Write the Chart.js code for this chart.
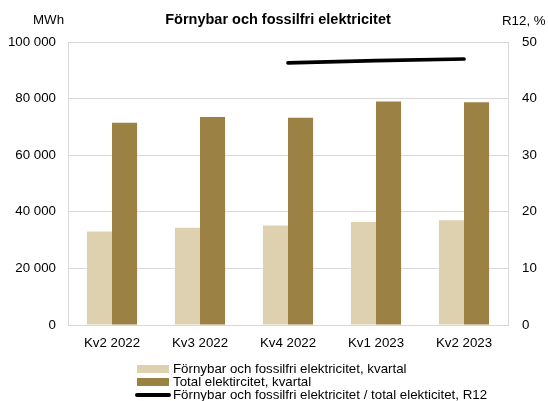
<!DOCTYPE html>
<html><head><meta charset="utf-8">
<script src="https://cdn.jsdelivr.net/npm/chart.js@4"></script>
<style>
html,body{margin:0;padding:0;background:#fff;}
#wrap{position:relative;width:548px;height:401px;font-family:"Liberation Sans",Arial,sans-serif;color:#000;}
canvas{position:absolute;left:0;top:0;}
.t{position:absolute;white-space:nowrap;font-size:13.3px;line-height:15px;}
.lg{position:absolute;left:0;height:13px;font-size:13.3px;line-height:13px;white-space:nowrap;}
.sw{position:absolute;left:137px;top:3px;width:32px;height:8px;}
.ln{position:absolute;left:135px;top:5px;width:36px;height:3.5px;background:#000;border-radius:2px;}
.lt{position:absolute;left:173px;top:0;}
</style></head>
<body><div id="wrap">
<canvas id="c" width="548" height="401"></canvas>
<div class="t" style="left:0;width:556px;top:12px;text-align:center;font-weight:bold;font-size:14.5px;">Förnybar och fossilfri elektricitet</div>
<div class="t" style="left:33px;top:12px;">MWh</div>
<div class="t" style="left:502px;top:13px;">R12, %</div>
<div id="legend"></div>
</div>
<script>
const categories = ["Kv2 2022","Kv3 2022","Kv4 2022","Kv1 2023","Kv2 2023"];
const renewableQuarter = [33000, 34400, 35200, 36400, 37000];
const totalQuarter = [71500, 73500, 73200, 79000, 78700];
const ratioR12 = [null, null, 46.3, 46.7, 47.0];
const seriesNames = ["Förnybar och fossilfri elektricitet, kvartal","Total elektircitet, kvartal","Förnybar och fossilfri elektricitet / total elekticitet, R12"];
const leftTicks = [0,20000,40000,60000,80000,100000];
const rightTicks = [0,10,20,30,40,50];

const cLight = "#DDD1B0", cDark = "#9B8144", gridC = "#d9d9d9";
const font = {family:'"Liberation Sans", Arial, sans-serif', size:13.3};

new Chart(document.getElementById('c'), {
  data: {
    labels: categories,
    datasets: [
      {type:'line', label:seriesNames[2], data:ratioR12, yAxisID:'y1', borderColor:'#000', borderWidth:3.7, pointRadius:0, borderCapStyle:'round', spanGaps:false, order:0},
      {type:'bar', label:seriesNames[0], data:renewableQuarter, backgroundColor:cLight, yAxisID:'y', categoryPercentage:0.57, barPercentage:1, order:1},
      {type:'bar', label:seriesNames[1], data:totalQuarter, backgroundColor:cDark, yAxisID:'y', categoryPercentage:0.57, barPercentage:1, order:1}
    ]
  },
  options: {
    responsive:false, animation:false, devicePixelRatio:1,
    layout:{padding:{top:42,bottom:0,left:0,right:0}},
    plugins:{legend:{display:false}, title:{display:false}, tooltip:{enabled:false}},
    scales:{
      x:{grid:{display:false, drawTicks:false}, border:{display:true,color:gridC},
         ticks:{font, color:'#000', padding:10, maxRotation:0},
         afterFit:(s)=>{s.height=76;}},
      y:{position:'left', min:0, max:100000, afterBuildTicks:(s)=>{s.ticks=leftTicks.map(v=>({value:v}));},
         grid:{color:gridC, drawTicks:false}, border:{display:true,color:gridC},
         ticks:{font, color:'#000', padding:12, callback:(v)=>String(v).replace(/\B(?=(\d{3})+(?!\d))/g,' ')},
         afterFit:(s)=>{s.width=68;}},
      y1:{position:'right', min:0, max:50, afterBuildTicks:(s)=>{s.ticks=rightTicks.map(v=>({value:v}));},
         grid:{display:false, drawTicks:false}, border:{display:true,color:gridC},
         ticks:{font, color:'#000', padding:14},
         afterFit:(s)=>{s.width=40;}}
    }
  }
});

const lg = document.getElementById('legend');
const tops = [362,375,388];
seriesNames.forEach((n,i)=>{
  const d=document.createElement('div'); d.className='lg'; d.style.top=tops[i]+'px';
  const m=document.createElement('div');
  if(i<2){m.className='sw'; m.style.background=i===0?cLight:cDark;} else {m.className='ln';}
  const t=document.createElement('div'); t.className='lt'; t.textContent=n;
  d.appendChild(m); d.appendChild(t); lg.appendChild(d);
});
</script>
</body></html>
